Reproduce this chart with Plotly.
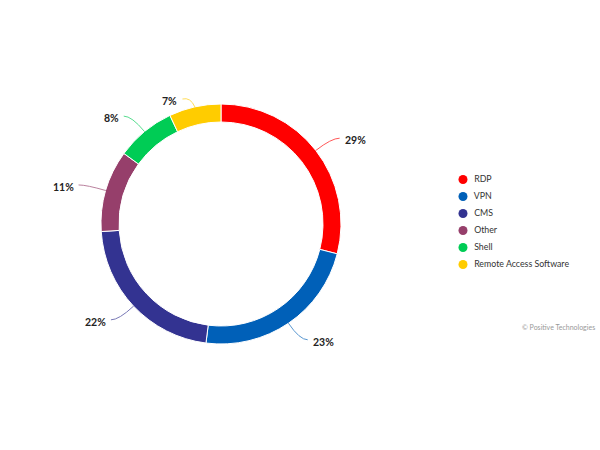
import math
import plotly.graph_objects as go

labels = ["RDP", "VPN", "CMS", "Other", "Shell", "Remote Access Software"]
values = [29, 23, 22, 11, 8, 7]
colors = ["#ff0000", "#0060b8", "#333391", "#963f6b", "#00cc55", "#ffcc00"]

W, H = 600, 450
CX, CY = 221, 224      # pie centre, pixels from top-left
R_OUT = 120
R_ELBOW = 140
ROW = 17               # legend row height

fig = go.Figure()

fig.add_trace(go.Pie(
    labels=labels,
    values=values,
    hole=0.85,
    sort=False,
    direction="clockwise",
    rotation=0,
    marker=dict(colors=colors, line=dict(color="white", width=1)),
    textinfo="none",
    hoverinfo="label+percent",
    showlegend=False,
    domain=dict(x=[(CX - R_OUT) / W, (CX + R_OUT) / W],
                y=[1 - (CY + R_OUT) / H, 1 - (CY - R_OUT) / H]),
))

# legend drawn as a marker column with round symbols
rows = list(range(len(labels)))
fig.add_trace(go.Scatter(
    x=[0] * len(labels), y=rows,
    mode="markers+text",
    marker=dict(color=colors, size=9, symbol="circle"),
    text=["  " + l for l in labels],
    textposition="middle right",
    textfont=dict(size=8.8, color="#333333"),
    hoverinfo="skip",
    showlegend=False,
    cliponaxis=False,
))


def px(x, y):
    return x / W, 1 - y / H


# outside labels with leader lines
total = sum(values)
cum = 0
for v, col in zip(values, colors):
    mid = math.radians(90 - (cum + v / 2) / total * 360)
    cum += v
    ca, sa = math.cos(mid), -math.sin(mid)
    x0, y0 = CX + R_OUT * ca, CY + R_OUT * sa
    x1, y1 = CX + R_ELBOW * ca, max(CY + R_ELBOW * sa, 97)
    side = 1 if ca >= 0 else -1
    x2, y2 = x1 + 8 * side, max(y1, 99)
    p0, p1, p2 = px(x0, y0), px(x1, y1), px(x2, y2)
    fig.add_shape(
        type="path", xref="paper", yref="paper",
        path=f"M {p0[0]},{p0[1]} Q {p1[0]},{p1[1]} {p2[0]},{p2[1]}",
        line=dict(color=col, width=1), opacity=0.65,
    )
    tx, ty = px(x2 + 3 * side, y2 + 2)
    fig.add_annotation(
        x=tx, y=ty, xref="paper", yref="paper",
        text=f"<b>{round(v / total * 100)}%</b>", showarrow=False,
        xanchor="left" if side > 0 else "right", yanchor="middle",
        font=dict(size=10.5, color="#222222"),
    )

fig.add_annotation(
    x=597 / W, y=1 - 327 / H, xref="paper", yref="paper",
    text="© Positive Technologies", showarrow=False,
    xanchor="right", yanchor="middle",
    font=dict(size=7, color="#999999"),
)

LX0, LY0 = 455, 171
fig.update_layout(
    width=W, height=H,
    margin=dict(l=0, r=0, t=0, b=0),
    paper_bgcolor="white",
    plot_bgcolor="rgba(0,0,0,0)",
    font=dict(family="Lato, sans-serif", color="#333333"),
    xaxis=dict(visible=False, domain=[LX0 / W, 1], range=[-8, W - LX0 - 8],
               fixedrange=True),
    yaxis=dict(visible=False, domain=[1 - (LY0 + ROW * len(labels)) / H, 1 - LY0 / H],
               range=[len(labels) - 0.5, -0.5], fixedrange=True),
    showlegend=False,
)

fig.write_html("out.html", config={"displayModeBar": False},
               post_script="document.body.style.margin='0';")
